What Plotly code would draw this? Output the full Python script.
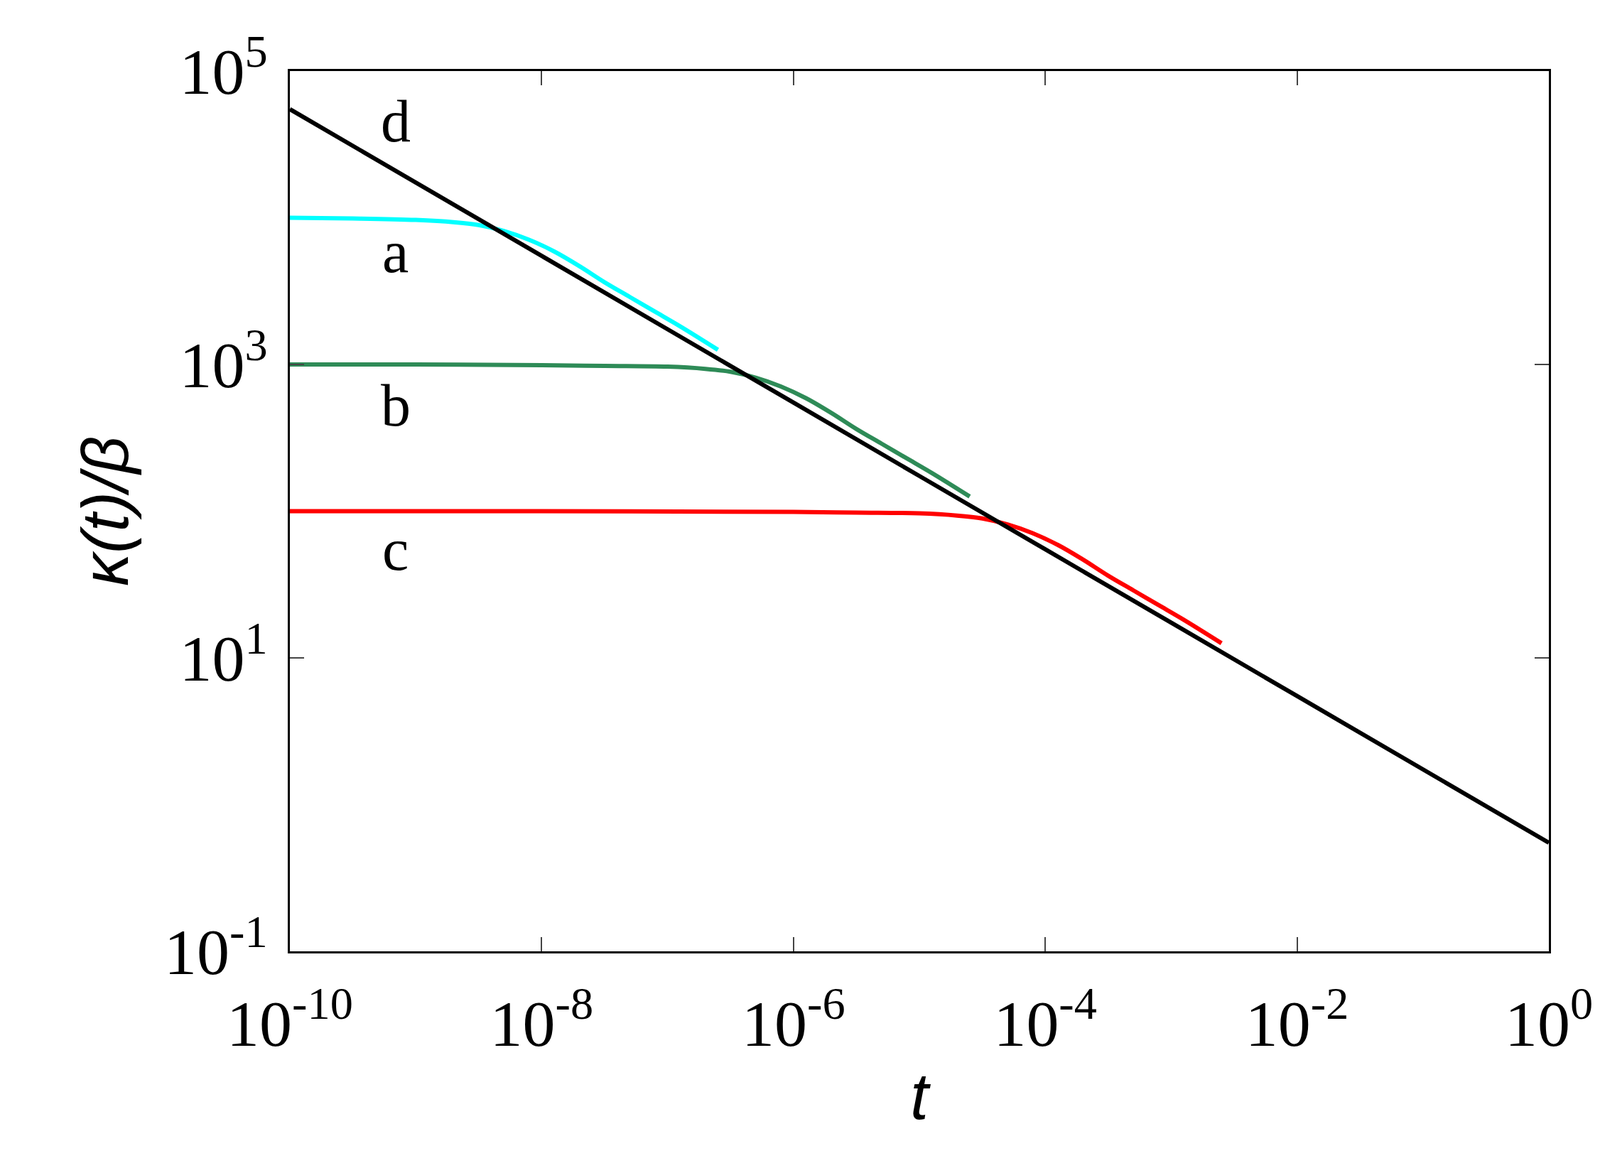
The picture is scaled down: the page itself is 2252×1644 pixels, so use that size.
import numpy as np
import plotly.graph_objects as go

# values, as log10(t) and log10(kappa/beta)
log_t_d = [-10, -8, -6, -4, -2, 0]
log_k_d = [4.74, 3.74, 2.74, 1.74, 0.74, -0.26]

log_t_a = [-10, -9.5, -9, -8.7, -8.5, -8.3, -8.1, -7.9, -7.7, -7.5, -7.3, -7.1, -6.9, -6.6]
log_k_a = [4.0, 3.995, 3.985, 3.97, 3.95, 3.91, 3.85, 3.77, 3.67, 3.56, 3.46, 3.36, 3.26, 3.10]

log_t_b = [-10, -9, -8, -7.5, -7, -6.7, -6.5, -6.3, -6.1, -5.9, -5.7, -5.5, -5.3, -5.1, -4.9, -4.6]
log_k_b = [3.0, 3.0, 2.995, 2.99, 2.985, 2.97, 2.95, 2.91, 2.85, 2.77, 2.67, 2.56, 2.46, 2.36, 2.26, 2.10]

log_t_c = [-10, -8, -6, -5.5, -5, -4.7, -4.5, -4.3, -4.1, -3.9, -3.7, -3.5, -3.3, -3.1, -2.9, -2.6]
log_k_c = [2.0, 2.0, 1.995, 1.99, 1.985, 1.97, 1.95, 1.91, 1.85, 1.77, 1.67, 1.56, 1.46, 1.36, 1.26, 1.10]

labels = ["a", "b", "c", "d"]
label_t = [-9.16, -9.16, -9.16, -9.16]
label_k = [3.77, 2.72, 1.74, 4.66]

xticks = [-10, -8, -6, -4, -2, 0]
yticks = [-1, 1, 3, 5]

serif = "Liberation Serif"

fig = go.Figure()
for lt, lk, col in [(log_t_a, log_k_a, "#00ffff"), (log_t_b, log_k_b, "#2e8b57"),
                    (log_t_c, log_k_c, "#ff0000"), (log_t_d, log_k_d, "#000000")]:
    fig.add_trace(go.Scatter(x=10.0 ** np.array(lt), y=10.0 ** np.array(lk), mode="lines",
                             line=dict(color=col, width=6, shape="spline"), showlegend=False))

for s, lt, lk in zip(labels, label_t, label_k):
    fig.add_annotation(x=lt, y=lk, text=s, showarrow=False,
                       font=dict(family=serif, size=84, color="black"))

fig.update_xaxes(type="log", range=[-10, 0], tickvals=[10.0 ** v for v in xticks],
                 ticktext=["10<sup>%d</sup>" % v for v in xticks],
                 ticks="inside", ticklen=20, tickwidth=2, mirror="ticks", showline=True,
                 linecolor="black", linewidth=3, showgrid=False, zeroline=False,
                 ticklabelstandoff=20,
                 tickfont=dict(family=serif, size=92, color="black"),
                 title=dict(text="<i>t</i>", font=dict(family="Liberation Sans", size=92, color="black"),
                            standoff=20))
fig.update_yaxes(type="log", range=[-1, 5], tickvals=[10.0 ** v for v in yticks],
                 ticktext=["10<sup>%d</sup>" % v for v in yticks],
                 ticks="inside", ticklen=20, tickwidth=2, mirror="ticks", showline=True,
                 linecolor="black", linewidth=3, showgrid=False, zeroline=False,
                 ticklabelstandoff=10,
                 tickfont=dict(family=serif, size=92, color="black"),
                 title=dict(text="<i>κ(t)/β</i>", font=dict(family="Liberation Sans", size=92, color="black"),
                            standoff=20))

fig.update_layout(width=2252, height=1644, plot_bgcolor="white", paper_bgcolor="white",
                  margin=dict(l=400, r=80, t=92, b=313))

fig.write_html("out.html")
